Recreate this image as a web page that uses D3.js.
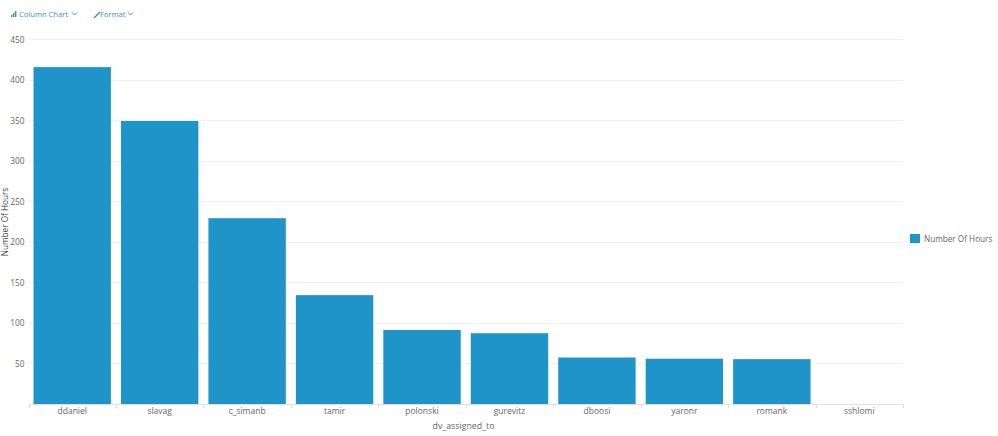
<!DOCTYPE html>
<html><head><meta charset="utf-8">
<script src="https://cdn.jsdelivr.net/npm/d3@7/dist/d3.min.js"></script>
<style>
html,body{margin:0;padding:0;background:#fff;overflow:hidden}
svg{display:block}
text{font-family:"Open Sans",sans-serif}
</style></head><body>
<svg id="c" width="998" height="436"></svg>
<script>
const categories=["ddaniel","slavag","c_simanb","tamir","polonski","gurevitz","dboosi","yaronr","romank","sshlomi"];
const hours=[416.5,350,230,135,92,88,58,56.5,56,0];
const yTicks=[50,100,150,200,250,300,350,400,450];
const seriesName="Number Of Hours";
const xTitle="dv_assigned_to";
const menuItems=["Column Chart","Format"];
const blue="#1f94c8",grey="#666",line="#f0f0f0";
const svg=d3.select("#c");
const x=d3.scaleBand().domain(categories).range([28.5,903]).paddingInner(0.115).paddingOuter(0.0575);
const xTickScale=d3.scaleLinear().domain([0,categories.length]).range([28.5,903]);
const y=d3.scaleLinear().domain([0,450]).range([404.5,40]);

svg.append("g").selectAll("line").data(yTicks).join("line")
  .attr("x1",28.5).attr("x2",903).attr("y1",d=>Math.round(y(d))-.5).attr("y2",d=>Math.round(y(d))-.5)
  .attr("stroke",line);
svg.append("g").selectAll("text").data(yTicks).join("text")
  .attr("x",24.5).attr("y",d=>y(d)+2.5).attr("text-anchor","end")
  .attr("font-size",8.3).attr("fill",grey).text(d=>d);
svg.append("g").selectAll("rect").data(categories).join("rect")
  .attr("x",d=>x(d)).attr("width",x.bandwidth())
  .attr("y",(d,i)=>y(hours[i])).attr("height",(d,i)=>y(0)-y(hours[i]))
  .attr("fill",blue);
const xa=svg.append("g");
xa.append("line").attr("x1",28.5).attr("x2",903).attr("y1",404.5).attr("y2",404.5).attr("stroke","#e0e0e0");
xa.selectAll("line.t").data(d3.range(categories.length+1)).join("line").attr("class","t")
  .attr("x1",d=>Math.round(xTickScale(d))+.5).attr("x2",d=>Math.round(xTickScale(d))+.5)
  .attr("y1",404).attr("y2",408).attr("stroke","#e0e0e0");
xa.selectAll("text").data(categories).join("text")
  .attr("x",d=>x(d)+x.bandwidth()/2).attr("y",414).attr("text-anchor","middle")
  .attr("font-size",8.5).attr("fill",grey).text(d=>d);
svg.append("text").attr("x",463.5).attr("y",429).attr("text-anchor","middle")
  .attr("font-size",8.8).attr("fill",grey).text(xTitle);
svg.append("text").attr("transform","translate(8,222) rotate(-90)").attr("text-anchor","middle")
  .attr("font-size",8.2).attr("fill","#444").text("Number Of Hours");
svg.append("rect").attr("x",910).attr("y",234).attr("width",10).attr("height",9).attr("fill",blue);
svg.append("text").attr("x",924).attr("y",242).attr("font-size",8.2).attr("fill",grey).text(seriesName);
const tb=svg.append("g").attr("fill","#3b8fc0");
tb.selectAll("rect").data([2,4,6]).join("rect")
  .attr("x",(d,i)=>11+i*2).attr("y",d=>17-d).attr("width",1.4).attr("height",d=>d);
tb.append("text").attr("x",19).attr("y",17).attr("font-size",7.6).text(menuItems[0]);
tb.append("path").attr("d","M72 12.5l2.5 2.5 2.5-2.5").attr("fill","none").attr("stroke","#3b8fc0");
tb.append("path").attr("d","M94 18l6-6").attr("fill","none").attr("stroke","#3b8fc0").attr("stroke-width",1.3);
tb.append("text").attr("x",100).attr("y",17).attr("font-size",7.6).text(menuItems[1]);
tb.append("path").attr("d","M128 12.5l2.5 2.5 2.5-2.5").attr("fill","none").attr("stroke","#3b8fc0");
</script></body></html>
